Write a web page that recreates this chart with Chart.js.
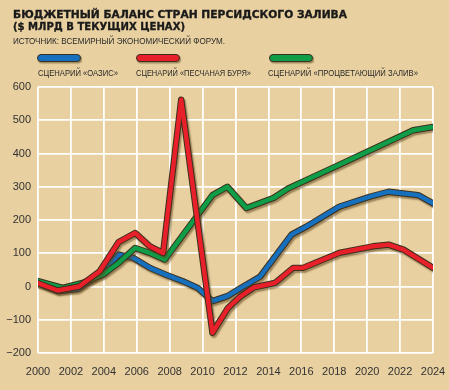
<!DOCTYPE html>
<html lang="ru">
<head>
<meta charset="utf-8">
<title>Бюджетный баланс стран Персидского залива</title>
<script src="https://cdn.jsdelivr.net/npm/chart.js@4.4.1/dist/chart.umd.min.js"></script>
<style>
  html, body { margin: 0; padding: 0; }
  body { width: 449px; height: 390px; background: #e8d0a0; position: relative; overflow: hidden;
         font-family: "Liberation Sans", Arial, sans-serif; color: #222; }
  #wrap { position: absolute; left: 0; top: 0; width: 449px; height: 390px; }
  .txt { position: absolute; white-space: nowrap; transform-origin: 0 0; line-height: 1; }
  .title { font-family: "DejaVu Sans", sans-serif; font-weight: 900; font-size: 11px; color: #1a1a1a;
           -webkit-text-stroke: 0.35px #1a1a1a; }
  .src, .lbl { font-size: 9.5px; color: #2a2a2a; }
  .sw { position: absolute; height: 6px; border-radius: 4px; border: 1px solid #3b2f1e;
        box-shadow: 1px 1.5px 1px rgba(90,70,30,0.5); }
</style>
</head>
<body>
<div id="wrap"><canvas id="gulfChart" width="449" height="390"></canvas></div>

<div class="txt title" data-w="334" style="left:13px;top:8.5px">БЮДЖЕТНЫЙ БАЛАНС СТРАН ПЕРСИДСКОГО ЗАЛИВА</div>
<div class="txt title" data-w="172" style="left:13px;top:21px">($ МЛРД В ТЕКУЩИХ ЦЕНАХ)</div>
<div class="txt src" data-w="212" style="left:13px;top:36px">ИСТОЧНИК: ВСЕМИРНЫЙ ЭКОНОМИЧЕСКИЙ ФОРУМ.</div>

<div class="sw" style="left:37px;top:54px;width:42px;background:#1670be"></div>
<div class="sw" style="left:136px;top:54px;width:42px;background:#e8202a"></div>
<div class="sw" style="left:269px;top:54px;width:42px;background:#0f9d48"></div>
<div class="txt lbl" data-w="80" style="left:38px;top:67.5px">СЦЕНАРИЙ «ОАЗИС»</div>
<div class="txt lbl" data-w="115" style="left:136px;top:67.5px">СЦЕНАРИЙ «ПЕСЧАНАЯ БУРЯ»</div>
<div class="txt lbl" data-w="150" style="left:268px;top:67.5px">СЦЕНАРИЙ «ПРОЦВЕТАЮЩИЙ ЗАЛИВ»</div>

<script>
// values ($ bn), years are where the line bends
const oasisYears = [2000, 2001.2, 2002.4, 2004.0, 2004.9, 2005.8, 2006.8, 2007.8, 2008.8, 2009.7, 2010.6, 2011.5, 2012.3, 2013.5, 2015.4, 2016.3, 2018.3, 2020.15, 2021.3, 2023.1, 2024];
const oasis      = [10, -14, -8, 45, 96, 86, 56, 35, 16, -4, -44, -29, -5, 30, 156, 180, 240, 270, 285, 275, 250];

const stormYears = [2000, 2001.2, 2002.5, 2003.75, 2004.9, 2005.9, 2006.8, 2007.6, 2008.7, 2010.6, 2011.55, 2012.3, 2013.1, 2014.4, 2015.5, 2016.1, 2018.3, 2020.35, 2021.3, 2022.2, 2024];
const storm      = [10, -12, 0, 46, 134, 161, 121, 101, 562, -139, -64, -30, -3, 11, 56, 56, 101, 121, 126, 111, 56];

const gulfYears  = [2000, 2001.5, 2002.7, 2003.95, 2004.9, 2005.9, 2006.8, 2007.7, 2010.6, 2011.5, 2012.66, 2014.3, 2015.2, 2016.3, 2018.3, 2022.8, 2024];
const gulf       = [16, -4, 11, 36, 71, 116, 101, 81, 275, 300, 236, 266, 295, 320, 366, 470, 480];

const xTicks = [2000, 2002, 2004, 2006, 2008, 2010, 2012, 2014, 2016, 2018, 2020, 2022, 2024];
const yTicks = [-200, -100, 0, 100, 200, 300, 400, 500, 600];

const seriesNames = ['Сценарий «Оазис»', 'Сценарий «Песчаная буря»', 'Сценарий «Процветающий залив»'];
const seriesColors = ['#1670be', '#e8202a', '#0f9d48'];

function pts(xs, ys) {
  return xs.map((x, i) => ({ x, y: ys[i] }));
}

// each line = dark outline underneath + coloured stroke on top
function lineSets(label, data, color, order) {
  const common = { data, pointRadius: 0, fill: false, tension: 0,
                   borderCapStyle: 'round', borderJoinStyle: 'round' };
  return [
    { ...common, label, borderColor: color, borderWidth: 4.4, order },
    { ...common, label: label + ' (контур)', borderColor: '#3b2f1e', borderWidth: 6.4, order: order + 1, outline: true },
  ];
}

const shadowPlugin = {
  id: 'lineShadow',
  beforeDatasetDraw(chart, args) {
    const ds = chart.data.datasets[args.index];
    chart.ctx.save();
    if (ds.outline) {
      chart.ctx.shadowColor = 'rgba(95,70,30,0.55)';
      chart.ctx.shadowOffsetX = 1.5;
      chart.ctx.shadowOffsetY = 2;
      chart.ctx.shadowBlur = 1.5;
    }
  },
  afterDatasetDraw(chart) {
    chart.ctx.restore();
  },
};

const datasets = [
  ...lineSets(seriesNames[1], pts(stormYears, storm), seriesColors[1], 0),
  ...lineSets(seriesNames[2], pts(gulfYears, gulf), seriesColors[2], 2),
  ...lineSets(seriesNames[0], pts(oasisYears, oasis), seriesColors[0], 4),
];

new Chart(document.getElementById('gulfChart'), {
  type: 'line',
  data: { datasets },
  plugins: [shadowPlugin],
  options: {
    responsive: false,
    animation: false,
    layout: { padding: { left: 0, top: 87, right: 16, bottom: 0 } },
    plugins: { legend: { display: false }, tooltip: { enabled: false } },
    scales: {
      x: {
        type: 'linear', min: 2000, max: 2024,
        afterFit: (s) => { s.height = 37; s.paddingLeft = 0; s.paddingRight = 0; },
        afterBuildTicks: (s) => { s.ticks = xTicks.map((v) => ({ value: v })); },
        grid: { color: '#ffffff', lineWidth: 1.8, drawTicks: false },
        border: { display: false },
        ticks: { padding: 12, color: '#333', font: { family: 'Liberation Sans', size: 11 },
                 maxRotation: 0, callback: (v) => String(v) },
      },
      y: {
        min: -200, max: 600,
        afterFit: (s) => { s.width = 38; s.paddingTop = 0; s.paddingBottom = 0; },
        afterBuildTicks: (s) => { s.ticks = yTicks.map((v) => ({ value: v })); },
        grid: { color: '#ffffff', lineWidth: 1.8, drawTicks: false },
        border: { display: false },
        ticks: { padding: 7, color: '#333', font: { family: 'Liberation Sans', size: 11 },
                 callback: (v) => (v < 0 ? '\u2212' + Math.abs(v) : String(v)) },
      },
    },
  },
});

// squeeze header texts to the widths seen in the picture
document.querySelectorAll('.txt[data-w]').forEach((el) => {
  const w = parseFloat(el.dataset.w);
  const k = w / el.getBoundingClientRect().width;
  el.style.transform = `scaleX(${k})`;
});
</script>
</body>
</html>
